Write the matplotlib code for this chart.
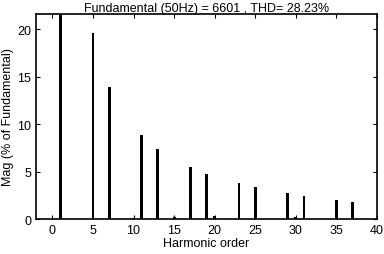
import numpy as np
import matplotlib
matplotlib.use("Agg")
import matplotlib.pyplot as plt

plt.rcParams['font.family'] = ['Liberation Sans', 'DejaVu Sans']

# harmonic spectrum (% of fundamental), fundamental clipped by the axis
orders = [1, 5, 7, 10, 11, 13, 15, 17, 19, 20, 23, 25, 29, 30, 31, 35, 37]
mags = [100, 19.65, 13.9, 0.15, 8.84, 7.37, 0.2, 5.44, 4.74, 0.3,
        3.79, 3.33, 2.74, 0.2, 2.45, 2.03, 1.76]
title = "Fundamental (50Hz) = 6601 , THD= 28.23%"

fig = plt.figure(figsize=(3.84, 2.55), dpi=100)
ax = fig.add_axes([0.094, 0.137, 0.888, 0.804])
ax.bar(orders, mags, width=0.35, color="black")

ax.set_xlim(-2, 40)
ax.set_ylim(0, 21.6)
ax.set_xticks(np.arange(0, 41, 5))
ax.set_yticks([0, 5, 10, 15, 20])
ax.tick_params(direction="in", top=True, right=True, labelsize=9, length=3, width=0.8)
for s in ax.spines.values():
    s.set_linewidth(1.2)

ax.set_xlabel("Harmonic order", fontsize=9, labelpad=1)
ax.set_ylabel("Mag (% of Fundamental)", fontsize=9, labelpad=2)
ax.set_title(title, fontsize=9, pad=2)

fig.savefig("out.png", dpi=100)
